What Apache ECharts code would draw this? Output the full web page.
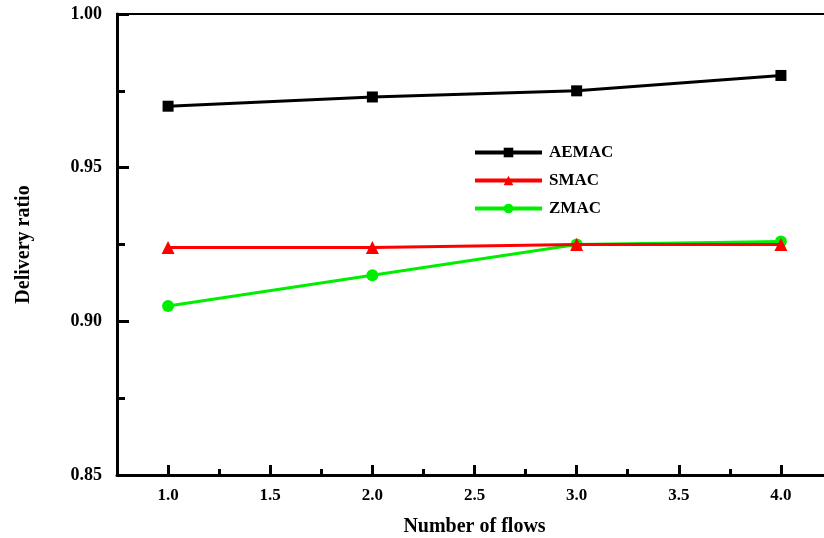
<!DOCTYPE html>
<html>
<head>
<meta charset="utf-8">
<script src="https://cdn.jsdelivr.net/npm/echarts@6/dist/echarts.min.js"></script>
<style>html,body{margin:0;padding:0;background:#fff;}#c{width:824px;height:538px;}</style>
</head>
<body>
<div id="c"></div>
<script>
var flows = [1.0, 2.0, 3.0, 4.0];
var aemac = [0.970, 0.973, 0.975, 0.980];
var smac  = [0.924, 0.924, 0.925, 0.925];
var zmac  = [0.905, 0.915, 0.925, 0.926];
var xMajorTicks = [1.0, 1.5, 2.0, 2.5, 3.0, 3.5, 4.0];
var xMinorTicks = [1.25, 1.75, 2.25, 2.75, 3.25, 3.75];

var font = '"Liberation Serif", "DejaVu Serif", serif';
function pairs(ys){ return flows.map(function(x,i){ return [x, ys[i]]; }); }

var chart = echarts.init(document.getElementById('c'));
chart.setOption({
  animation: false,
  backgroundColor: '#fff',
  grid: { left: 117, top: 14, right: -8, bottom: 63, outerBoundsMode: 'none', containLabel: false,
    show: true, borderColor: '#000', borderWidth: 2, backgroundColor: 'transparent' },
  legend: {
    left: 473, top: 144, padding: 0, orient: 'vertical', itemWidth: 67, itemHeight: 12, itemGap: 11,
    data: ['AEMAC', 'SMAC', 'ZMAC'],
    lineStyle: { width: 4 },
    textStyle: { fontFamily: font, fontWeight: 'bold', fontSize: 17, color: '#000', padding: [0,0,0,2] }
  },
  xAxis: [{
    type: 'value', min: 0.75, max: 4.25,
    axisLine: { show: true, lineStyle: { color: '#000', width: 3 } },
    axisTick: { show: true, inside: true, length: 10, lineStyle: { width: 3, color: '#000' }, customValues: xMajorTicks },
    axisLabel: { customValues: xMajorTicks, margin: 12, fontFamily: font, fontWeight: 'bold', fontSize: 17, color: '#000',
      formatter: function(v){ return v.toFixed(1); } },
    splitLine: { show: false },
    name: 'Number of flows', nameLocation: 'middle', nameGap: 42,
    nameTextStyle: { fontFamily: font, fontWeight: 'bold', fontSize: 20, color: '#000' }
  }, {
    type: 'value', min: 0.75, max: 4.25, position: 'bottom',
    axisLine: { show: false },
    axisTick: { show: true, inside: true, length: 6, lineStyle: { width: 3, color: '#000' }, customValues: xMinorTicks },
    axisLabel: { show: false }, splitLine: { show: false }
  }],
  yAxis: {
    type: 'value', min: 0.85, max: 1.00, interval: 0.05,
    axisLine: { show: true, lineStyle: { color: '#000', width: 3 } },
    axisTick: { show: true, inside: true, length: 12, lineStyle: { width: 3, color: '#000' } },
    minorTick: { show: true, splitNumber: 2, length: 8, lineStyle: { width: 3, color: '#000' } },
    axisLabel: { margin: 15, fontFamily: font, fontWeight: 'bold', fontSize: 18, color: '#000',
      formatter: function(v){ return v.toFixed(2); } },
    splitLine: { show: false },
    name: 'Delivery ratio', nameLocation: 'middle', nameGap: 83, nameRotate: 90,
    nameTextStyle: { fontFamily: font, fontWeight: 'bold', fontSize: 20, color: '#000' }
  },
  series: [
    { name: 'AEMAC', type: 'line', data: pairs(aemac), symbol: 'rect', symbolSize: 11,
      lineStyle: { color: '#000', width: 3 }, itemStyle: { color: '#000' }, z: 3 },
    { name: 'ZMAC', type: 'line', data: pairs(zmac), symbol: 'circle', symbolSize: 12,
      lineStyle: { color: '#00ee00', width: 3 }, itemStyle: { color: '#00ee00' }, z: 2 },
    { name: 'SMAC', type: 'line', data: pairs(smac), symbol: 'triangle', symbolSize: 13,
      lineStyle: { color: '#ff0000', width: 3 }, itemStyle: { color: '#ff0000' }, z: 4 }
  ]
});
</script>
</body>
</html>
